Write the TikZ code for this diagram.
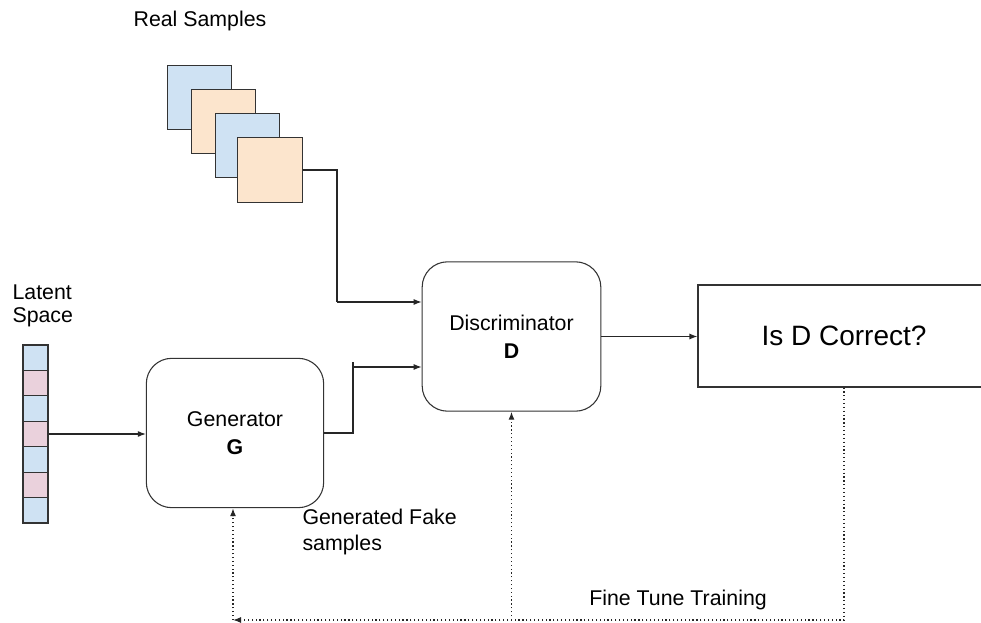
\documentclass[tikz,border=0pt]{standalone}
\usepackage{fontspec}
\setmainfont{Liberation Sans}
\usetikzlibrary{positioning,arrows.meta,calc}

\definecolor{sampleblue}{HTML}{CFE2F3}
\definecolor{sampleorange}{HTML}{FCE5CD}
\definecolor{latentpink}{HTML}{EAD1DC}

\begin{document}
\begin{tikzpicture}[
  x=0.75pt, y=-0.75pt,
  line width=0.8pt,
  lbl/.style={font=\fontsize{16}{19.5}\selectfont, inner sep=0pt, align=left},
  block/.style={draw=black!80, rounded corners=19pt, minimum width=133pt, minimum height=112pt, inner sep=0pt, align=center, font=\fontsize{16}{21}\selectfont},
  sample/.style={draw=black!80, minimum size=48.5pt, inner sep=0pt},
  bluesample/.style={sample, fill=sampleblue},
  orangesample/.style={sample, fill=sampleorange},
  cell/.style={draw=black!80, minimum width=18.75pt, minimum height=19.05pt, inner sep=0pt},
  bluecell/.style={cell, fill=sampleblue},
  pinkcell/.style={cell, fill=latentpink},
  arr/.style={-{Latex[length=6pt,width=4.5pt]}, draw=black!85},
  fb/.style={arr, dotted, line width=0.9pt}
]
  \useasboundingbox (0,0) rectangle (981,623);

  % Real samples
  \node[lbl] (reallbl) at (200,21) {Real Samples};
  \node[bluesample]   (rs1) at (199.5,97.5)  {};
  \node[orangesample] (rs2) at (223.5,121.5) {};
  \node[bluesample]   (rs3) at (247.5,145.5) {};
  \node[orangesample] (rs4) at (270,170)     {};

  % Latent space
  \node[lbl, anchor=west] (latlbl1) at (12,292) {Latent};
  \node[lbl, anchor=west] (latlbl2) at (12,317) {Space};
  \node[bluecell] (z1) at (35.5,357.7) {};
  \node[pinkcell] (z2) at (35.5,383.1) {};
  \node[bluecell] (z3) at (35.5,408.5) {};
  \node[pinkcell] (z4) at (35.5,434.0) {};
  \node[bluecell] (z5) at (35.5,459.4) {};
  \node[pinkcell] (z6) at (35.5,484.8) {};
  \node[bluecell] (z7) at (35.5,510.3) {};

  % Blocks
  \node[block] (G) at (235,433) {Generator\\\textbf{G}};
  \node[block, minimum width=134pt] (D) at (511.5,336.5) {Discriminator\\\textbf{D}};
  \node[draw=black!80, minimum width=219pt, minimum height=76.5pt, inner sep=0pt,
        font=\fontsize{21}{25}\selectfont] (isd) at (844,336) {Is D Correct?};

  % Labels
  \node[lbl, anchor=west] (fakelbl) at (302,532) {Generated Fake\\samples};
  \node[lbl] (finelbl) at (678,600) {Fine Tune Training};

  % Connectors
  \coordinate (realin) at (337,302);
  \coordinate (fakeup) at (353,362);
  \coordinate (fakein) at (353,367);
  \coordinate (fbcorner) at (233,620);

  \draw[draw=black!85] (rs4.east) -| (realin);
  \draw[arr] (realin) -- (realin -| D.west);
  \draw[arr] (z4.east) -- (z4.east -| G.west);
  \draw[draw=black!85] (G.east) -| (fakeup);
  \draw[arr] (fakein) -- (fakein -| D.west);
  \draw[arr] (D.east) -- (D.east -| isd.west);

  % Feedback
  \draw[fb] (isd.south) |- (fbcorner);
  \draw[fb] (fbcorner) -- (fbcorner |- G.south);
  \draw[fb] (D.south |- fbcorner) -- (D.south);
\end{tikzpicture}
\end{document}
